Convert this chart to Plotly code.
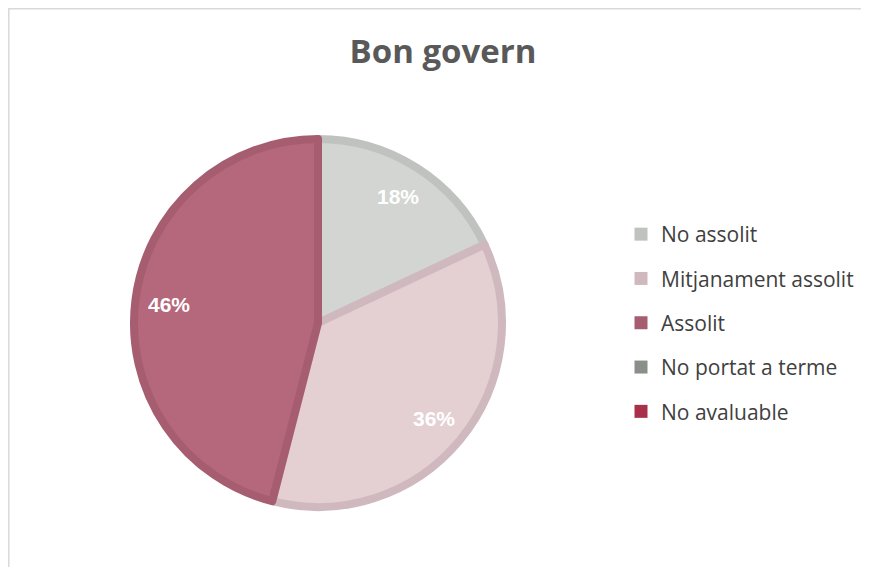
import math
import plotly.graph_objects as go

categories = ["No assolit", "Mitjanament assolit", "Assolit", "No portat a terme", "No avaluable"]
values = [18, 36, 46, 0, 0]
fill_colors = ["#D2D5D2", "#E4CFD2", "#B5677B", "#8A8F8A", "#A8304A"]
line_colors = ["#BFC2BF", "#D0B9BE", "#A65D70", "#8A8F8A", "#A8304A"]

# page body has an 8px margin, so the figure is 8px smaller than the window
W, H = 861, 559
fig = go.Figure()

cx, cy, r = 310, 315, 184
line_w = [8 if v > 0 else 0 for v in values]
fig.add_trace(go.Pie(
    labels=categories, values=values, sort=False, direction="clockwise", rotation=0,
    marker=dict(colors=fill_colors, line=dict(color=line_colors, width=line_w)),
    textinfo="none",
    domain=dict(x=[(cx - r) / W, (cx + r) / W], y=[(H - cy - r) / H, (H - cy + r) / H]),
    showlegend=False, hoverinfo="label+percent",
))

# percent labels placed at 80% of the radius, derived from the values
total = sum(values)
annotations = []
cum = 0
lab_r = 150
for v in values:
    if v > 0:
        mid = (cum + v / 2) / total * 2 * math.pi
        px = cx + lab_r * math.sin(mid)
        py = cy - lab_r * math.cos(mid)
        annotations.append(dict(
            x=px / W, y=1 - py / H, xref="paper", yref="paper", showarrow=False,
            text=f"<b>{round(v / total * 100)}%</b>",
            font=dict(family="Liberation Sans", size=21, color="white"),
            xanchor="center", yanchor="middle"))
    cum += v

for i, c in enumerate(categories):
    fig.add_trace(go.Scatter(
        x=[None], y=[None], mode="markers", name=c, legendgroup=c,
        marker=dict(symbol="square", size=13, color=line_colors[i]),
        showlegend=True,
    ))

fig.update_layout(
    width=W, height=H,
    margin=dict(l=0, r=0, t=0, b=0),
    paper_bgcolor="white", plot_bgcolor="white",
    xaxis=dict(visible=False), yaxis=dict(visible=False),
    title=dict(text="<b>Bon govern</b>", x=435 / W, xanchor="center", y=1 - 43 / H, yanchor="middle",
               font=dict(family="Open Sans", size=33, color="#595959")),
    legend=dict(x=613 / W, xanchor="left", y=1 - 206 / H, yanchor="top",
                font=dict(family="Open Sans", size=21, color="#404040"),
                tracegroupgap=14, itemwidth=30, bgcolor="rgba(0,0,0,0)"),
    annotations=annotations,
    shapes=[
        dict(type="line", xref="paper", yref="paper", x0=0.8 / W, x1=0.8 / W, y0=0, y1=1,
             line=dict(color="#D9D9D9", width=1.5)),
        dict(type="line", xref="paper", yref="paper", x0=0, x1=1, y0=1 - 0.8 / H, y1=1 - 0.8 / H,
             line=dict(color="#D9D9D9", width=1.5)),
    ],
)

fig.write_html("out.html")
